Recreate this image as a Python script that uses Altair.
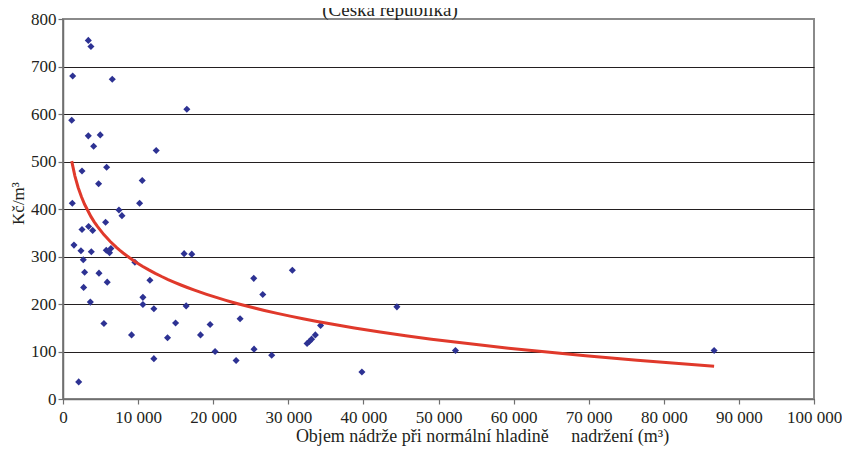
import altair as alt
import pandas as pd

# Objem nádrže (m³) and cost (Kč/m³)
objem = [1160, 1290, 1240, 1460, 2090, 2390, 2530, 2530, 2700, 2880,
         2750, 3370, 3720, 3370, 3410, 3950, 3640, 3770, 4080, 4960,
         4740, 4790, 5450, 5670, 5760, 6380, 6200, 5890, 5810, 6560,
         7450, 7850, 9130, 9570, 10200, 10550, 10640, 10640, 11570, 12100,
         12100, 12410, 13920, 14990, 16130, 17150, 16400, 16490, 18310, 19590,
         20250, 23050, 23580, 25400, 25440, 26600, 27790, 30540, 32500, 32800,
         33100, 33600, 34300, 39800, 44460, 52260, 86700]
cena = [587, 680, 412, 324, 36, 312, 357, 480, 293, 267,
        235, 755, 742, 554, 363, 355, 204, 310, 532, 556,
        453, 265, 159, 372, 313, 317, 308, 246, 488, 673,
        398, 386, 135, 288, 412, 460, 214, 199, 250, 190,
        85, 523, 129, 160, 306, 305, 196, 610, 135, 157,
        100, 81, 169, 254, 105, 220, 92, 271, 117, 121,
        126, 135, 155, 57, 194, 102, 102]

x_ticks = list(range(0, 100001, 10000))
y_ticks = list(range(0, 801, 100))

title_text = ["(Česká republika)"]
x_title = "Objem nádrže při normální hladině\u00a0\u00a0\u00a0\u00a0 nadržení (m³)"
y_title = "Kč/m³"

df = pd.DataFrame({"objem": objem, "cena": cena})
df_title = pd.DataFrame({"t": title_text})

FONT = "Liberation Serif"
TXT = "#231f20"

x_enc = alt.X(
    "objem:Q",
    scale=alt.Scale(domain=[0, 100000], nice=False, zero=True),
    axis=alt.Axis(
        values=x_ticks,
        title=x_title,
        grid=False,
        labelExpr="replace(format(datum.value, ','), ',', ' ')",
        labelFont=FONT, labelFontSize=17, labelColor=TXT, labelPadding=5,
        labelFlush=False,
        titleFont=FONT, titleFontSize=18, titleFontWeight="normal", titleColor=TXT,
        titleX=419, titleY=42, titleAlign="center", titleBaseline="alphabetic",
        domainColor="#6f6f6f", domainWidth=1.5,
        tickColor="#6f6f6f", tickSize=5, tickWidth=1.2,
    ),
)
y_enc = alt.Y(
    "cena:Q",
    scale=alt.Scale(domain=[0, 800], nice=False),
    axis=alt.Axis(
        values=y_ticks,
        title=y_title,
        grid=True,
        gridColor={"condition": {"test": "datum.value == 800", "value": "#8a8a8a"}, "value": TXT},
        gridWidth=1.2,
        labelFont=FONT, labelFontSize=17, labelColor=TXT, labelPadding=2,
        labelFlush=False,
        titleFont=FONT, titleFontSize=17, titleFontWeight="normal", titleColor=TXT,
        titleAngle=270, titleX=-40, titleY=184, titleAlign="center", titleBaseline="alphabetic",
        domainColor="#6f6f6f", domainWidth=1.5,
        tickColor="#6f6f6f", tickSize=5, tickWidth=1.2,
    ),
)

base = alt.Chart(df)

points = base.mark_point(
    shape="diamond", filled=True, size=50, color="#2d3293", opacity=1
).encode(x=x_enc, y=y_enc)

trend = base.transform_regression(
    "objem", "cena", method="log"
).mark_line(color="#e0392b", strokeWidth=3).encode(
    x=alt.X("objem:Q"), y=alt.Y("cena:Q")
)

title_mark = alt.Chart(df_title).mark_text(
    font=FONT, fontSize=19, color=TXT, align="center", baseline="alphabetic"
).encode(text="t:N", x=alt.value(327), y=alt.value(-3))

chart = alt.layer(points, trend, title_mark).properties(
    width=751,
    height=380,
    autosize="none",
    padding={"left": 55, "top": 11, "right": 28, "bottom": 48},
).configure_view(stroke="#8a8a8a", strokeWidth=2)

chart.save("out.html", embed_options={"renderer": "svg", "actions": False})
